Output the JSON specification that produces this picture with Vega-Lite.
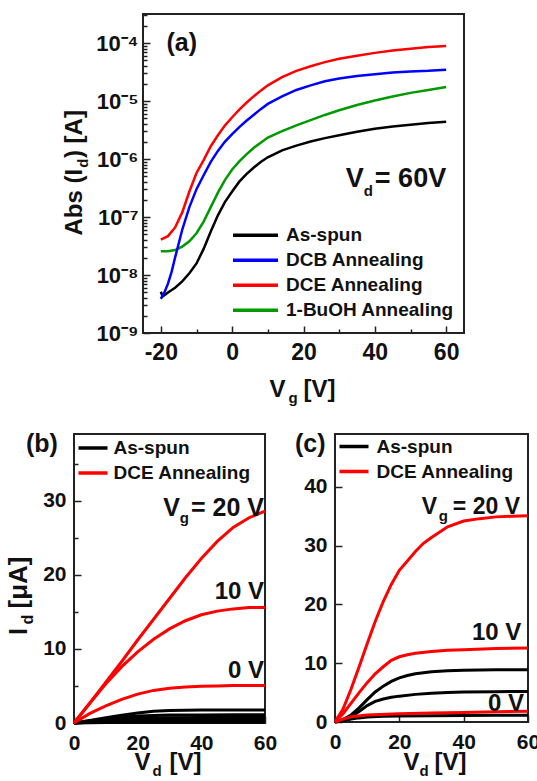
{
  "$schema": "https://vega.github.io/schema/vega-lite/v6.json",
  "padding": {"left": 4, "top": 13, "right": 0, "bottom": 0},
  "config": {
    "font": "Liberation Sans",
    "view": {"stroke": "#222", "strokeWidth": 2},
    "axis": {"grid": false, "domain": false, "title": null, "labelFont": "Liberation Sans", "labelFontWeight": "bold", "labelColor": "#111", "tickColor": "#222", "tickWidth": 1.5, "labelOverlap": false, "labelFlush": false},
    "text": {"font": "Liberation Sans", "fontWeight": "bold", "color": "#111", "baseline": "alphabetic"}
  },
  "datasets": {
    "transfer": [
      {"sample": "As-spun", "vg": -20, "id": 5.13e-9}, {"sample": "As-spun", "vg": -19.5, "id": 4.27e-9}, {"sample": "As-spun", "vg": -19, "id": 4.47e-9}, {"sample": "As-spun", "vg": -18, "id": 5.01e-9}, {"sample": "As-spun", "vg": -16, "id": 6.03e-9}, {"sample": "As-spun", "vg": -14, "id": 7.76e-9}, {"sample": "As-spun", "vg": -12, "id": 1.07e-8}, {"sample": "As-spun", "vg": -10, "id": 1.58e-8}, {"sample": "As-spun", "vg": -8, "id": 2.82e-8}, {"sample": "As-spun", "vg": -6, "id": 5.62e-8}, {"sample": "As-spun", "vg": -4, "id": 1.07e-7}, {"sample": "As-spun", "vg": -2, "id": 1.82e-7}, {"sample": "As-spun", "vg": 0, "id": 2.75e-7}, {"sample": "As-spun", "vg": 2, "id": 4.07e-7}, {"sample": "As-spun", "vg": 4, "id": 5.5e-7}, {"sample": "As-spun", "vg": 6, "id": 7.08e-7}, {"sample": "As-spun", "vg": 8, "id": 8.91e-7}, {"sample": "As-spun", "vg": 10, "id": 1.07e-6}, {"sample": "As-spun", "vg": 14, "id": 1.41e-6}, {"sample": "As-spun", "vg": 18, "id": 1.7e-6}, {"sample": "As-spun", "vg": 22, "id": 2.0e-6}, {"sample": "As-spun", "vg": 26, "id": 2.29e-6}, {"sample": "As-spun", "vg": 30, "id": 2.57e-6}, {"sample": "As-spun", "vg": 35, "id": 2.95e-6}, {"sample": "As-spun", "vg": 40, "id": 3.31e-6}, {"sample": "As-spun", "vg": 45, "id": 3.63e-6}, {"sample": "As-spun", "vg": 50, "id": 3.89e-6}, {"sample": "As-spun", "vg": 55, "id": 4.17e-6}, {"sample": "As-spun", "vg": 60, "id": 4.37e-6},
      {"sample": "1-BuOH Annealing", "vg": -20, "id": 2.57e-8}, {"sample": "1-BuOH Annealing", "vg": -18, "id": 2.57e-8}, {"sample": "1-BuOH Annealing", "vg": -16, "id": 2.69e-8}, {"sample": "1-BuOH Annealing", "vg": -14, "id": 3.09e-8}, {"sample": "1-BuOH Annealing", "vg": -12, "id": 3.8e-8}, {"sample": "1-BuOH Annealing", "vg": -10, "id": 5.25e-8}, {"sample": "1-BuOH Annealing", "vg": -8, "id": 8.32e-8}, {"sample": "1-BuOH Annealing", "vg": -6, "id": 1.48e-7}, {"sample": "1-BuOH Annealing", "vg": -4, "id": 2.63e-7}, {"sample": "1-BuOH Annealing", "vg": -2, "id": 4.37e-7}, {"sample": "1-BuOH Annealing", "vg": 0, "id": 6.61e-7}, {"sample": "1-BuOH Annealing", "vg": 2, "id": 9.12e-7}, {"sample": "1-BuOH Annealing", "vg": 4, "id": 1.2e-6}, {"sample": "1-BuOH Annealing", "vg": 6, "id": 1.55e-6}, {"sample": "1-BuOH Annealing", "vg": 8, "id": 1.91e-6}, {"sample": "1-BuOH Annealing", "vg": 10, "id": 2.34e-6}, {"sample": "1-BuOH Annealing", "vg": 14, "id": 3.02e-6}, {"sample": "1-BuOH Annealing", "vg": 18, "id": 3.8e-6}, {"sample": "1-BuOH Annealing", "vg": 22, "id": 4.68e-6}, {"sample": "1-BuOH Annealing", "vg": 26, "id": 5.75e-6}, {"sample": "1-BuOH Annealing", "vg": 30, "id": 6.92e-6}, {"sample": "1-BuOH Annealing", "vg": 35, "id": 8.51e-6}, {"sample": "1-BuOH Annealing", "vg": 40, "id": 1.02e-5}, {"sample": "1-BuOH Annealing", "vg": 45, "id": 1.2e-5}, {"sample": "1-BuOH Annealing", "vg": 50, "id": 1.38e-5}, {"sample": "1-BuOH Annealing", "vg": 55, "id": 1.55e-5}, {"sample": "1-BuOH Annealing", "vg": 60, "id": 1.74e-5},
      {"sample": "DCB Annealing", "vg": -20, "id": 3.89e-9}, {"sample": "DCB Annealing", "vg": -19, "id": 5.01e-9}, {"sample": "DCB Annealing", "vg": -18, "id": 7.08e-9}, {"sample": "DCB Annealing", "vg": -17, "id": 1.12e-8}, {"sample": "DCB Annealing", "vg": -16, "id": 2.0e-8}, {"sample": "DCB Annealing", "vg": -14, "id": 6.03e-8}, {"sample": "DCB Annealing", "vg": -12, "id": 1.48e-7}, {"sample": "DCB Annealing", "vg": -10, "id": 3.02e-7}, {"sample": "DCB Annealing", "vg": -8, "id": 5.25e-7}, {"sample": "DCB Annealing", "vg": -6, "id": 8.91e-7}, {"sample": "DCB Annealing", "vg": -4, "id": 1.38e-6}, {"sample": "DCB Annealing", "vg": -2, "id": 2.0e-6}, {"sample": "DCB Annealing", "vg": 0, "id": 2.69e-6}, {"sample": "DCB Annealing", "vg": 2, "id": 3.55e-6}, {"sample": "DCB Annealing", "vg": 4, "id": 4.57e-6}, {"sample": "DCB Annealing", "vg": 6, "id": 5.75e-6}, {"sample": "DCB Annealing", "vg": 8, "id": 7.24e-6}, {"sample": "DCB Annealing", "vg": 10, "id": 8.91e-6}, {"sample": "DCB Annealing", "vg": 14, "id": 1.2e-5}, {"sample": "DCB Annealing", "vg": 18, "id": 1.55e-5}, {"sample": "DCB Annealing", "vg": 22, "id": 1.86e-5}, {"sample": "DCB Annealing", "vg": 26, "id": 2.19e-5}, {"sample": "DCB Annealing", "vg": 30, "id": 2.45e-5}, {"sample": "DCB Annealing", "vg": 35, "id": 2.69e-5}, {"sample": "DCB Annealing", "vg": 40, "id": 2.88e-5}, {"sample": "DCB Annealing", "vg": 45, "id": 3.09e-5}, {"sample": "DCB Annealing", "vg": 50, "id": 3.24e-5}, {"sample": "DCB Annealing", "vg": 55, "id": 3.31e-5}, {"sample": "DCB Annealing", "vg": 60, "id": 3.47e-5},
      {"sample": "DCE Annealing", "vg": -20, "id": 4.07e-8}, {"sample": "DCE Annealing", "vg": -18, "id": 4.68e-8}, {"sample": "DCE Annealing", "vg": -16, "id": 6.61e-8}, {"sample": "DCE Annealing", "vg": -14, "id": 1.2e-7}, {"sample": "DCE Annealing", "vg": -12, "id": 2.75e-7}, {"sample": "DCE Annealing", "vg": -10, "id": 5.75e-7}, {"sample": "DCE Annealing", "vg": -8, "id": 9.55e-7}, {"sample": "DCE Annealing", "vg": -6, "id": 1.66e-6}, {"sample": "DCE Annealing", "vg": -4, "id": 2.57e-6}, {"sample": "DCE Annealing", "vg": -2, "id": 3.8e-6}, {"sample": "DCE Annealing", "vg": 0, "id": 5.25e-6}, {"sample": "DCE Annealing", "vg": 2, "id": 7.08e-6}, {"sample": "DCE Annealing", "vg": 4, "id": 9.33e-6}, {"sample": "DCE Annealing", "vg": 6, "id": 1.2e-5}, {"sample": "DCE Annealing", "vg": 8, "id": 1.51e-5}, {"sample": "DCE Annealing", "vg": 10, "id": 1.86e-5}, {"sample": "DCE Annealing", "vg": 14, "id": 2.57e-5}, {"sample": "DCE Annealing", "vg": 18, "id": 3.31e-5}, {"sample": "DCE Annealing", "vg": 22, "id": 3.98e-5}, {"sample": "DCE Annealing", "vg": 26, "id": 4.68e-5}, {"sample": "DCE Annealing", "vg": 30, "id": 5.37e-5}, {"sample": "DCE Annealing", "vg": 35, "id": 6.03e-5}, {"sample": "DCE Annealing", "vg": 40, "id": 6.76e-5}, {"sample": "DCE Annealing", "vg": 45, "id": 7.41e-5}, {"sample": "DCE Annealing", "vg": 50, "id": 7.94e-5}, {"sample": "DCE Annealing", "vg": 55, "id": 8.51e-5}, {"sample": "DCE Annealing", "vg": 60, "id": 8.91e-5}
    ],
    "outputB": [
      {"sample": "As-spun", "vg": -20, "vd": 0, "id": 0}, {"sample": "As-spun", "vg": -20, "vd": 5, "id": 0.04}, {"sample": "As-spun", "vg": -20, "vd": 10, "id": 0.07}, {"sample": "As-spun", "vg": -20, "vd": 20, "id": 0.09}, {"sample": "As-spun", "vg": -20, "vd": 40, "id": 0.1}, {"sample": "As-spun", "vg": -20, "vd": 60, "id": 0.1},
      {"sample": "As-spun", "vg": -10, "vd": 0, "id": 0}, {"sample": "As-spun", "vg": -10, "vd": 5, "id": 0.1}, {"sample": "As-spun", "vg": -10, "vd": 10, "id": 0.2}, {"sample": "As-spun", "vg": -10, "vd": 15, "id": 0.28}, {"sample": "As-spun", "vg": -10, "vd": 20, "id": 0.34}, {"sample": "As-spun", "vg": -10, "vd": 25, "id": 0.37}, {"sample": "As-spun", "vg": -10, "vd": 30, "id": 0.39}, {"sample": "As-spun", "vg": -10, "vd": 40, "id": 0.4}, {"sample": "As-spun", "vg": -10, "vd": 60, "id": 0.4},
      {"sample": "As-spun", "vg": 0, "vd": 0, "id": 0}, {"sample": "As-spun", "vg": 0, "vd": 5, "id": 0.2}, {"sample": "As-spun", "vg": 0, "vd": 10, "id": 0.38}, {"sample": "As-spun", "vg": 0, "vd": 15, "id": 0.52}, {"sample": "As-spun", "vg": 0, "vd": 20, "id": 0.62}, {"sample": "As-spun", "vg": 0, "vd": 25, "id": 0.68}, {"sample": "As-spun", "vg": 0, "vd": 30, "id": 0.72}, {"sample": "As-spun", "vg": 0, "vd": 40, "id": 0.74}, {"sample": "As-spun", "vg": 0, "vd": 50, "id": 0.75}, {"sample": "As-spun", "vg": 0, "vd": 60, "id": 0.75},
      {"sample": "As-spun", "vg": 10, "vd": 0, "id": 0}, {"sample": "As-spun", "vg": 10, "vd": 5, "id": 0.3}, {"sample": "As-spun", "vg": 10, "vd": 10, "id": 0.55}, {"sample": "As-spun", "vg": 10, "vd": 15, "id": 0.78}, {"sample": "As-spun", "vg": 10, "vd": 20, "id": 0.93}, {"sample": "As-spun", "vg": 10, "vd": 25, "id": 1.02}, {"sample": "As-spun", "vg": 10, "vd": 30, "id": 1.07}, {"sample": "As-spun", "vg": 10, "vd": 40, "id": 1.09}, {"sample": "As-spun", "vg": 10, "vd": 50, "id": 1.1}, {"sample": "As-spun", "vg": 10, "vd": 60, "id": 1.1},
      {"sample": "As-spun", "vg": 20, "vd": 0, "id": 0}, {"sample": "As-spun", "vg": 20, "vd": 5, "id": 0.35}, {"sample": "As-spun", "vg": 20, "vd": 10, "id": 0.7}, {"sample": "As-spun", "vg": 20, "vd": 15, "id": 1.05}, {"sample": "As-spun", "vg": 20, "vd": 20, "id": 1.35}, {"sample": "As-spun", "vg": 20, "vd": 25, "id": 1.6}, {"sample": "As-spun", "vg": 20, "vd": 30, "id": 1.7}, {"sample": "As-spun", "vg": 20, "vd": 40, "id": 1.75}, {"sample": "As-spun", "vg": 20, "vd": 50, "id": 1.75}, {"sample": "As-spun", "vg": 20, "vd": 60, "id": 1.75},
      {"sample": "DCE Annealing", "vg": 0, "vd": 0, "id": 0}, {"sample": "DCE Annealing", "vg": 0, "vd": 5, "id": 1.3}, {"sample": "DCE Annealing", "vg": 0, "vd": 10, "id": 2.3}, {"sample": "DCE Annealing", "vg": 0, "vd": 15, "id": 3.2}, {"sample": "DCE Annealing", "vg": 0, "vd": 20, "id": 3.9}, {"sample": "DCE Annealing", "vg": 0, "vd": 25, "id": 4.4}, {"sample": "DCE Annealing", "vg": 0, "vd": 30, "id": 4.7}, {"sample": "DCE Annealing", "vg": 0, "vd": 35, "id": 4.85}, {"sample": "DCE Annealing", "vg": 0, "vd": 40, "id": 4.95}, {"sample": "DCE Annealing", "vg": 0, "vd": 45, "id": 5.0}, {"sample": "DCE Annealing", "vg": 0, "vd": 50, "id": 5.05}, {"sample": "DCE Annealing", "vg": 0, "vd": 55, "id": 5.05}, {"sample": "DCE Annealing", "vg": 0, "vd": 60, "id": 5.05},
      {"sample": "DCE Annealing", "vg": 10, "vd": 0, "id": 0}, {"sample": "DCE Annealing", "vg": 10, "vd": 5, "id": 2.7}, {"sample": "DCE Annealing", "vg": 10, "vd": 10, "id": 5.3}, {"sample": "DCE Annealing", "vg": 10, "vd": 15, "id": 7.6}, {"sample": "DCE Annealing", "vg": 10, "vd": 20, "id": 9.6}, {"sample": "DCE Annealing", "vg": 10, "vd": 25, "id": 11.3}, {"sample": "DCE Annealing", "vg": 10, "vd": 30, "id": 12.7}, {"sample": "DCE Annealing", "vg": 10, "vd": 35, "id": 13.8}, {"sample": "DCE Annealing", "vg": 10, "vd": 40, "id": 14.6}, {"sample": "DCE Annealing", "vg": 10, "vd": 45, "id": 15.1}, {"sample": "DCE Annealing", "vg": 10, "vd": 50, "id": 15.4}, {"sample": "DCE Annealing", "vg": 10, "vd": 55, "id": 15.6}, {"sample": "DCE Annealing", "vg": 10, "vd": 60, "id": 15.6},
      {"sample": "DCE Annealing", "vg": 20, "vd": 0, "id": 0}, {"sample": "DCE Annealing", "vg": 20, "vd": 5, "id": 2.7}, {"sample": "DCE Annealing", "vg": 20, "vd": 10, "id": 5.5}, {"sample": "DCE Annealing", "vg": 20, "vd": 15, "id": 8.3}, {"sample": "DCE Annealing", "vg": 20, "vd": 20, "id": 11.2}, {"sample": "DCE Annealing", "vg": 20, "vd": 25, "id": 14.0}, {"sample": "DCE Annealing", "vg": 20, "vd": 30, "id": 16.8}, {"sample": "DCE Annealing", "vg": 20, "vd": 35, "id": 19.6}, {"sample": "DCE Annealing", "vg": 20, "vd": 40, "id": 22.2}, {"sample": "DCE Annealing", "vg": 20, "vd": 45, "id": 24.5}, {"sample": "DCE Annealing", "vg": 20, "vd": 50, "id": 26.4}, {"sample": "DCE Annealing", "vg": 20, "vd": 55, "id": 27.7}, {"sample": "DCE Annealing", "vg": 20, "vd": 60, "id": 28.6}
    ],
    "outputC": [
      {"sample": "As-spun", "vg": 0, "vd": 0, "id": 0}, {"sample": "As-spun", "vg": 0, "vd": 2.5, "id": 0.2}, {"sample": "As-spun", "vg": 0, "vd": 5, "id": 0.5}, {"sample": "As-spun", "vg": 0, "vd": 7.5, "id": 0.7}, {"sample": "As-spun", "vg": 0, "vd": 10, "id": 0.85}, {"sample": "As-spun", "vg": 0, "vd": 15, "id": 0.96}, {"sample": "As-spun", "vg": 0, "vd": 20, "id": 1.0}, {"sample": "As-spun", "vg": 0, "vd": 30, "id": 1.06}, {"sample": "As-spun", "vg": 0, "vd": 40, "id": 1.1}, {"sample": "As-spun", "vg": 0, "vd": 50, "id": 1.13}, {"sample": "As-spun", "vg": 0, "vd": 60, "id": 1.15},
      {"sample": "As-spun", "vg": 10, "vd": 0, "id": 0}, {"sample": "As-spun", "vg": 10, "vd": 2.5, "id": 0.3}, {"sample": "As-spun", "vg": 10, "vd": 5, "id": 0.9}, {"sample": "As-spun", "vg": 10, "vd": 7.5, "id": 1.8}, {"sample": "As-spun", "vg": 10, "vd": 10, "id": 2.8}, {"sample": "As-spun", "vg": 10, "vd": 12.5, "id": 3.5}, {"sample": "As-spun", "vg": 10, "vd": 15, "id": 3.9}, {"sample": "As-spun", "vg": 10, "vd": 17.5, "id": 4.2}, {"sample": "As-spun", "vg": 10, "vd": 20, "id": 4.4}, {"sample": "As-spun", "vg": 10, "vd": 25, "id": 4.7}, {"sample": "As-spun", "vg": 10, "vd": 30, "id": 4.9}, {"sample": "As-spun", "vg": 10, "vd": 35, "id": 5.0}, {"sample": "As-spun", "vg": 10, "vd": 40, "id": 5.1}, {"sample": "As-spun", "vg": 10, "vd": 50, "id": 5.15}, {"sample": "As-spun", "vg": 10, "vd": 60, "id": 5.2},
      {"sample": "As-spun", "vg": 20, "vd": 0, "id": 0}, {"sample": "As-spun", "vg": 20, "vd": 2.5, "id": 0.4}, {"sample": "As-spun", "vg": 20, "vd": 5, "id": 1.2}, {"sample": "As-spun", "vg": 20, "vd": 7.5, "id": 2.4}, {"sample": "As-spun", "vg": 20, "vd": 10, "id": 3.8}, {"sample": "As-spun", "vg": 20, "vd": 12.5, "id": 5.1}, {"sample": "As-spun", "vg": 20, "vd": 15, "id": 6.1}, {"sample": "As-spun", "vg": 20, "vd": 17.5, "id": 6.9}, {"sample": "As-spun", "vg": 20, "vd": 20, "id": 7.5}, {"sample": "As-spun", "vg": 20, "vd": 22.5, "id": 7.9}, {"sample": "As-spun", "vg": 20, "vd": 25, "id": 8.2}, {"sample": "As-spun", "vg": 20, "vd": 30, "id": 8.55}, {"sample": "As-spun", "vg": 20, "vd": 35, "id": 8.7}, {"sample": "As-spun", "vg": 20, "vd": 40, "id": 8.8}, {"sample": "As-spun", "vg": 20, "vd": 50, "id": 8.87}, {"sample": "As-spun", "vg": 20, "vd": 60, "id": 8.9},
      {"sample": "DCE Annealing", "vg": 0, "vd": 0, "id": 0}, {"sample": "DCE Annealing", "vg": 0, "vd": 2.5, "id": 0.5}, {"sample": "DCE Annealing", "vg": 0, "vd": 5, "id": 0.9}, {"sample": "DCE Annealing", "vg": 0, "vd": 10, "id": 1.2}, {"sample": "DCE Annealing", "vg": 0, "vd": 20, "id": 1.4}, {"sample": "DCE Annealing", "vg": 0, "vd": 30, "id": 1.53}, {"sample": "DCE Annealing", "vg": 0, "vd": 40, "id": 1.63}, {"sample": "DCE Annealing", "vg": 0, "vd": 50, "id": 1.74}, {"sample": "DCE Annealing", "vg": 0, "vd": 60, "id": 1.85},
      {"sample": "DCE Annealing", "vg": 10, "vd": 0, "id": 0}, {"sample": "DCE Annealing", "vg": 10, "vd": 2.5, "id": 1.4}, {"sample": "DCE Annealing", "vg": 10, "vd": 5, "id": 3.2}, {"sample": "DCE Annealing", "vg": 10, "vd": 7.5, "id": 5.0}, {"sample": "DCE Annealing", "vg": 10, "vd": 10, "id": 6.7}, {"sample": "DCE Annealing", "vg": 10, "vd": 12.5, "id": 8.2}, {"sample": "DCE Annealing", "vg": 10, "vd": 15, "id": 9.4}, {"sample": "DCE Annealing", "vg": 10, "vd": 17.5, "id": 10.5}, {"sample": "DCE Annealing", "vg": 10, "vd": 20, "id": 11.1}, {"sample": "DCE Annealing", "vg": 10, "vd": 22.5, "id": 11.45}, {"sample": "DCE Annealing", "vg": 10, "vd": 25, "id": 11.7}, {"sample": "DCE Annealing", "vg": 10, "vd": 30, "id": 12.0}, {"sample": "DCE Annealing", "vg": 10, "vd": 35, "id": 12.2}, {"sample": "DCE Annealing", "vg": 10, "vd": 40, "id": 12.3}, {"sample": "DCE Annealing", "vg": 10, "vd": 50, "id": 12.5}, {"sample": "DCE Annealing", "vg": 10, "vd": 60, "id": 12.6},
      {"sample": "DCE Annealing", "vg": 20, "vd": 0, "id": 0}, {"sample": "DCE Annealing", "vg": 20, "vd": 2.5, "id": 2.2}, {"sample": "DCE Annealing", "vg": 20, "vd": 5, "id": 5.6}, {"sample": "DCE Annealing", "vg": 20, "vd": 7.5, "id": 9.4}, {"sample": "DCE Annealing", "vg": 20, "vd": 10, "id": 13.3}, {"sample": "DCE Annealing", "vg": 20, "vd": 12.5, "id": 17.1}, {"sample": "DCE Annealing", "vg": 20, "vd": 15, "id": 20.5}, {"sample": "DCE Annealing", "vg": 20, "vd": 17.5, "id": 23.4}, {"sample": "DCE Annealing", "vg": 20, "vd": 20, "id": 25.8}, {"sample": "DCE Annealing", "vg": 20, "vd": 22.5, "id": 27.4}, {"sample": "DCE Annealing", "vg": 20, "vd": 25, "id": 29.0}, {"sample": "DCE Annealing", "vg": 20, "vd": 27.5, "id": 30.4}, {"sample": "DCE Annealing", "vg": 20, "vd": 30, "id": 31.4}, {"sample": "DCE Annealing", "vg": 20, "vd": 35, "id": 33.2}, {"sample": "DCE Annealing", "vg": 20, "vd": 40, "id": 34.2}, {"sample": "DCE Annealing", "vg": 20, "vd": 45, "id": 34.6}, {"sample": "DCE Annealing", "vg": 20, "vd": 50, "id": 34.9}, {"sample": "DCE Annealing", "vg": 20, "vd": 55, "id": 35.0}, {"sample": "DCE Annealing", "vg": 20, "vd": 60, "id": 35.1}
    ]
  },
  "resolve": {"scale": {"color": "independent"}, "legend": {"color": "independent"}},
  "spacing": 24,
  "vconcat": [
    {
      "bounds": "flush",
      "spacing": 0,
      "resolve": {"scale": {"color": "independent"}, "legend": {"color": "independent"}},
      "hconcat": [
        {"width": 69, "height": 319, "view": {"stroke": null}, "data": {"values": []}, "mark": "point"},
        {
          "width": 321,
          "height": 319,
          "layer": [
            {
              "data": {"name": "transfer"},
              "mark": {"type": "line", "strokeWidth": 2.5},
              "encoding": {
                "x": {"field": "vg", "type": "quantitative", "scale": {"domain": [-25, 65], "nice": false, "zero": false},
                  "axis": {"values": [-20, -10, 0, 10, 20, 30, 40, 50, 60], "labelExpr": "datum.value % 20 === 0 ? replace(datum.label, '−', '-') : ''",
                    "tickSize": {"condition": {"test": "datum.value % 20 === 0", "value": -7}, "value": -4}, "labelPadding": 15, "labelFontSize": 23}},
                "y": {"field": "id", "type": "quantitative", "scale": {"type": "log", "domain": [1e-9, 3.1623e-4], "nice": false},
                  "axis": {"values": [1e-9, 2e-9, 3e-9, 4e-9, 5e-9, 6e-9, 7e-9, 8e-9, 9e-9, 1e-8, 2e-8, 3e-8, 4e-8, 5e-8, 6e-8, 7e-8, 8e-8, 9e-8, 1e-7, 2e-7, 3e-7, 4e-7, 5e-7, 6e-7, 7e-7, 8e-7, 9e-7, 1e-6, 2e-6, 3e-6, 4e-6, 5e-6, 6e-6, 7e-6, 8e-6, 9e-6, 1e-5, 2e-5, 3e-5, 4e-5, 5e-5, 6e-5, 7e-5, 8e-5, 9e-5, 1e-4, 2e-4, 3e-4],
                    "labelExpr": "abs(log(datum.value) / LN10 - round(log(datum.value) / LN10)) < 0.001 ? '10⁻' + ['⁰','¹','²','³','⁴','⁵','⁶','⁷','⁸','⁹'][-round(log(datum.value) / LN10)] : ''",
                    "tickSize": {"condition": {"test": "abs(log(datum.value) / LN10 - round(log(datum.value) / LN10)) < 0.001", "value": -7}, "value": -4},
                    "labelFontSize": {"condition": {"test": "abs(log(datum.value) / LN10 - round(log(datum.value) / LN10)) < 0.001", "value": 22}, "value": 0},
                    "labelPadding": 12}},
                "color": {"field": "sample", "type": "nominal",
                  "scale": {"domain": ["As-spun", "DCB Annealing", "DCE Annealing", "1-BuOH Annealing"], "range": ["#000000", "#0000ff", "#ff0000", "#009a00"]},
                  "legend": {"title": null, "orient": "none", "legendX": 88, "legendY": 209, "symbolType": "stroke", "symbolSize": 2025, "symbolStrokeWidth": 3.5,
                    "labelFont": "Liberation Sans", "labelFontWeight": "bold", "labelFontSize": 19, "labelColor": "#111", "labelOffset": 6, "labelLimit": 300,
                    "clipHeight": 24.5, "rowPadding": 0, "padding": 0}}
              }
            },
            {"data": {"values": [{}]}, "mark": {"type": "text", "text": "(a)", "align": "left", "dx": 23.5, "dy": 37, "fontSize": 25}, "encoding": {"x": {"datum": -25}, "y": {"datum": 3.1623e-4}}},
            {"data": {"values": [{}]}, "mark": {"type": "text", "text": "V", "align": "right", "dx": -82.5, "fontSize": 27}, "encoding": {"x": {"datum": 60}, "y": {"datum": 3.27e-7}}},
            {"data": {"values": [{}]}, "mark": {"type": "text", "text": "d", "align": "right", "dx": -73.3, "dy": 9, "fontSize": 15}, "encoding": {"x": {"datum": 60}, "y": {"datum": 3.27e-7}}},
            {"data": {"values": [{}]}, "mark": {"type": "text", "text": "= 60V", "align": "right", "dx": 0, "fontSize": 27}, "encoding": {"x": {"datum": 60}, "y": {"datum": 3.27e-7}}},
            {"data": {"values": [{}]}, "mark": {"type": "text", "text": "V", "align": "left", "dx": -34, "dy": 64, "fontSize": 24}, "encoding": {"x": {"datum": 20}, "y": {"datum": 1e-9}}},
            {"data": {"values": [{}]}, "mark": {"type": "text", "text": "g", "align": "left", "dx": -15, "dy": 70, "fontSize": 15}, "encoding": {"x": {"datum": 20}, "y": {"datum": 1e-9}}},
            {"data": {"values": [{}]}, "mark": {"type": "text", "text": "[V]", "align": "left", "dx": 0, "dy": 64, "fontSize": 24}, "encoding": {"x": {"datum": 20}, "y": {"datum": 1e-9}}},
            {"data": {"values": [{}]}, "mark": {"type": "text", "text": "Abs (I", "align": "left", "angle": 270, "dx": -62, "dy": -61.5, "fontSize": 24}, "encoding": {"x": {"datum": -25}, "y": {"datum": 5.623e-7}}},
            {"data": {"values": [{}]}, "mark": {"type": "text", "text": "d", "align": "left", "angle": 270, "dx": 5.7, "dy": -55.5, "fontSize": 15}, "encoding": {"x": {"datum": -25}, "y": {"datum": 5.623e-7}}},
            {"data": {"values": [{}]}, "mark": {"type": "text", "text": ") [A]", "align": "left", "angle": 270, "dx": 15.4, "dy": -61.5, "fontSize": 24}, "encoding": {"x": {"datum": -25}, "y": {"datum": 5.623e-7}}}
          ]
        }
      ]
    },
    {
      "bounds": "flush",
      "spacing": 70,
      "resolve": {"scale": {"color": "independent"}, "legend": {"color": "independent"}},
      "hconcat": [
        {
          "width": 191,
          "height": 289,
          "layer": [
            {
              "data": {"name": "outputB"},
              "mark": {"type": "line", "strokeWidth": 3},
              "encoding": {
                "x": {"field": "vd", "type": "quantitative", "scale": {"domain": [0, 60], "nice": false},
                  "axis": {"values": [0, 10, 20, 30, 40, 50, 60], "labelExpr": "datum.value % 20 === 0 ? datum.label : ''",
                    "tickSize": {"condition": {"test": "datum.value % 20 === 0", "value": -7}, "value": -4}, "labelPadding": 16, "labelFontSize": 21}},
                "y": {"field": "id", "type": "quantitative", "scale": {"domain": [0, 39], "nice": false},
                  "axis": {"values": [0, 5, 10, 15, 20, 25, 30, 35], "labelExpr": "datum.value % 10 === 0 ? datum.label : ''",
                    "tickSize": {"condition": {"test": "datum.value % 10 === 0", "value": -7}, "value": -4}, "labelPadding": 15, "labelFontSize": 21}},
                "detail": {"field": "vg", "type": "nominal"},
                "color": {"field": "sample", "type": "nominal",
                  "scale": {"domain": ["As-spun", "DCE Annealing"], "range": ["#000000", "#ff0000"]},
                  "legend": {"title": null, "orient": "none", "legendX": 2.5, "legendY": 1.5, "symbolType": "stroke", "symbolSize": 841, "symbolStrokeWidth": 3.5,
                    "labelFont": "Liberation Sans", "labelFontWeight": "bold", "labelFontSize": 19, "labelColor": "#111", "labelOffset": 4, "labelLimit": 300,
                    "clipHeight": 25, "rowPadding": 0, "padding": 0}}
              }
            },
            {"data": {"values": [{}]}, "mark": {"type": "text", "text": "(b)", "align": "left", "dx": -48, "dy": 18, "fontSize": 25}, "encoding": {"x": {"datum": 0}, "y": {"datum": 39}}},
            {"data": {"values": [{}]}, "mark": {"type": "text", "text": "V", "align": "right", "dx": -85, "fontSize": 25}, "encoding": {"x": {"datum": 60}, "y": {"datum": 27.9}}},
            {"data": {"values": [{}]}, "mark": {"type": "text", "text": "g", "align": "right", "dx": -76, "dy": 7, "fontSize": 15}, "encoding": {"x": {"datum": 60}, "y": {"datum": 27.9}}},
            {"data": {"values": [{}]}, "mark": {"type": "text", "text": "= 20 V", "align": "right", "dx": -1, "fontSize": 25}, "encoding": {"x": {"datum": 60}, "y": {"datum": 27.9}}},
            {"data": {"values": [{}]}, "mark": {"type": "text", "text": "10 V", "align": "right", "dx": -1, "fontSize": 24}, "encoding": {"x": {"datum": 60}, "y": {"datum": 16.7}}},
            {"data": {"values": [{}]}, "mark": {"type": "text", "text": "0 V", "align": "right", "dx": -1, "fontSize": 24}, "encoding": {"x": {"datum": 60}, "y": {"datum": 6.1}}},
            {"data": {"values": [{}]}, "mark": {"type": "text", "text": "V", "align": "left", "dx": -35, "dy": 47, "fontSize": 24}, "encoding": {"x": {"datum": 30}, "y": {"datum": 0}}},
            {"data": {"values": [{}]}, "mark": {"type": "text", "text": "d", "align": "left", "dx": -17, "dy": 53, "fontSize": 15}, "encoding": {"x": {"datum": 30}, "y": {"datum": 0}}},
            {"data": {"values": [{}]}, "mark": {"type": "text", "text": "[V]", "align": "left", "dx": 0, "dy": 47, "fontSize": 24}, "encoding": {"x": {"datum": 30}, "y": {"datum": 0}}},
            {"data": {"values": [{}]}, "mark": {"type": "text", "text": "I", "align": "left", "angle": 270, "dx": -56.5, "dy": -47.5, "fontSize": 25}, "encoding": {"x": {"datum": 0}, "y": {"datum": 19.5}}},
            {"data": {"values": [{}]}, "mark": {"type": "text", "text": "d", "align": "left", "angle": 270, "dx": -46, "dy": -41.5, "fontSize": 16}, "encoding": {"x": {"datum": 0}, "y": {"datum": 19.5}}},
            {"data": {"values": [{}]}, "mark": {"type": "text", "text": "[μA]", "align": "left", "angle": 270, "dx": -30, "dy": -47.5, "fontSize": 26}, "encoding": {"x": {"datum": 0}, "y": {"datum": 19.5}}}
          ]
        },
        {
          "width": 193,
          "height": 288,
          "layer": [
            {
              "data": {"name": "outputC"},
              "mark": {"type": "line", "strokeWidth": 3},
              "encoding": {
                "x": {"field": "vd", "type": "quantitative", "scale": {"domain": [0, 60], "nice": false},
                  "axis": {"values": [0, 10, 20, 30, 40, 50, 60], "labelExpr": "datum.value % 20 === 0 ? datum.label : ''",
                    "tickSize": {"condition": {"test": "datum.value % 20 === 0", "value": -7}, "value": -4}, "labelPadding": 16, "labelFontSize": 21}},
                "y": {"field": "id", "type": "quantitative", "scale": {"domain": [0, 49], "nice": false},
                  "axis": {"values": [0, 5, 10, 15, 20, 25, 30, 35, 40, 45], "labelExpr": "datum.value % 10 === 0 ? datum.label : ''",
                    "tickSize": {"condition": {"test": "datum.value % 10 === 0", "value": -7}, "value": -4}, "labelPadding": 15, "labelFontSize": 21}},
                "detail": {"field": "vg", "type": "nominal"},
                "color": {"field": "sample", "type": "nominal",
                  "scale": {"domain": ["As-spun", "DCE Annealing"], "range": ["#000000", "#ff0000"]},
                  "legend": {"title": null, "orient": "none", "legendX": 2.5, "legendY": 0, "symbolType": "stroke", "symbolSize": 841, "symbolStrokeWidth": 3.5,
                    "labelFont": "Liberation Sans", "labelFontWeight": "bold", "labelFontSize": 19, "labelColor": "#111", "labelOffset": 6, "labelLimit": 300,
                    "clipHeight": 25, "rowPadding": 0, "padding": 0}}
              }
            },
            {"data": {"values": [{}]}, "mark": {"type": "text", "text": "(c)", "align": "left", "dx": -40, "dy": 18, "fontSize": 25}, "encoding": {"x": {"datum": 0}, "y": {"datum": 49}}},
            {"data": {"values": [{}]}, "mark": {"type": "text", "text": "V", "align": "right", "dx": -91, "fontSize": 23}, "encoding": {"x": {"datum": 60}, "y": {"datum": 35.4}}},
            {"data": {"values": [{}]}, "mark": {"type": "text", "text": "g", "align": "right", "dx": -80, "dy": 7, "fontSize": 15}, "encoding": {"x": {"datum": 60}, "y": {"datum": 35.4}}},
            {"data": {"values": [{}]}, "mark": {"type": "text", "text": "= 20 V", "align": "right", "dx": -8, "fontSize": 23}, "encoding": {"x": {"datum": 60}, "y": {"datum": 35.4}}},
            {"data": {"values": [{}]}, "mark": {"type": "text", "text": "10 V", "align": "right", "dx": -6.7, "fontSize": 24}, "encoding": {"x": {"datum": 60}, "y": {"datum": 13.9}}},
            {"data": {"values": [{}]}, "mark": {"type": "text", "text": "0 V", "align": "right", "dx": -4, "fontSize": 24}, "encoding": {"x": {"datum": 60}, "y": {"datum": 1.9}}},
            {"data": {"values": [{}]}, "mark": {"type": "text", "text": "V", "align": "left", "dx": -28, "dy": 48, "fontSize": 24}, "encoding": {"x": {"datum": 30}, "y": {"datum": 0}}},
            {"data": {"values": [{}]}, "mark": {"type": "text", "text": "d", "align": "left", "dx": -12, "dy": 54, "fontSize": 15}, "encoding": {"x": {"datum": 30}, "y": {"datum": 0}}},
            {"data": {"values": [{}]}, "mark": {"type": "text", "text": "[V]", "align": "left", "dx": 3, "dy": 48, "fontSize": 24}, "encoding": {"x": {"datum": 30}, "y": {"datum": 0}}}
          ]
        }
      ]
    }
  ]
}
